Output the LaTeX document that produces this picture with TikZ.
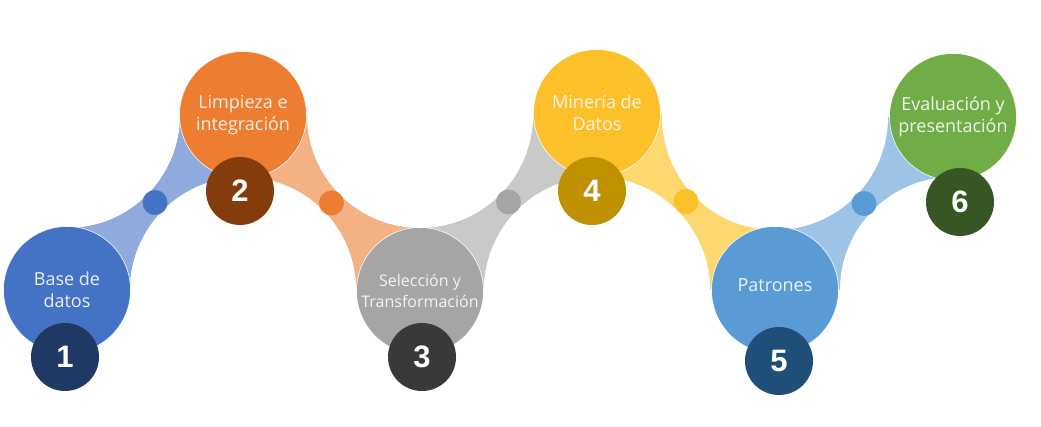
\documentclass[tikz,border=0pt]{standalone}
\usepackage{fontspec}
\setmainfont{Open Sans}
\newfontfamily\zahlfont{Liberation Sans}
\usepackage{tikz}
\usetikzlibrary{positioning,calc,backgrounds}

\definecolor{blau}{HTML}{4472C4}
\definecolor{blauhell}{HTML}{8FAADC}
\definecolor{blaudunkel}{HTML}{203864}
\definecolor{orangeton}{HTML}{ED7D31}
\definecolor{orangehell}{HTML}{F4B183}
\definecolor{orangedunkel}{HTML}{843C0C}
\definecolor{grau}{HTML}{A5A5A5}
\definecolor{grauhell}{HTML}{C9C9C9}
\definecolor{graudunkel}{HTML}{3A3838}
\definecolor{gelb}{HTML}{FCC02A}
\definecolor{gelbhell}{HTML}{FDD86E}
\definecolor{gelbdunkel}{HTML}{BF9000}
\definecolor{himmel}{HTML}{5B9BD5}
\definecolor{himmelhell}{HTML}{9DC3E6}
\definecolor{himmeldunkel}{HTML}{1F4E79}
\definecolor{gruen}{HTML}{70AD47}
\definecolor{gruendunkel}{HTML}{375623}

\tikzset{
  kreis/.style={circle, minimum size=127pt, inner sep=0pt, fill=#1, draw=white,
    line width=0.6pt, text=white!88!#1, align=center,
    font=\fontsize{18}{22}\selectfont},
  nummer/.style={circle, minimum size=68pt, inner sep=0pt, fill=#1, text=white,
    font=\zahlfont\bfseries\fontsize{31}{31}\selectfont},
  punkt/.style={circle, minimum size=25pt, inner sep=0pt, fill=#1},
}

\begin{document}
\begin{tikzpicture}[x=1pt,y=-1pt]
  \useasboundingbox (0,0) rectangle (1041,427);

  % Mittelpunkte
  \coordinate (m1) at (67,290);
  \coordinate (m2) at (243,115);
  \coordinate (m3) at (420,291);
  \coordinate (m4) at (597,113);
  \coordinate (m5) at (775,290);
  \coordinate (m6) at (953,117);

  % Verbindungen (hell), weisse Kreise schneiden sie aus
  \begin{scope}[on background layer]
    \foreach \a/\b/\farbe in {m1/m2/blauhell, m2/m3/orangehell, m3/m4/grauhell,
                              m4/m5/gelbhell, m5/m6/himmelhell}{
      \fill[\farbe] (\a) -- (\a |- \b) -- (\b) -- (\b |- \a) -- cycle;
    }
    \foreach \a/\b in {m1/m2, m2/m3, m3/m4, m4/m5, m5/m6}{
      \fill[white] (\a |- \b) circle (113pt);
      \fill[white] (\b |- \a) circle (113pt);
    }
  \end{scope}

  % Schritte
  \node[kreis=blau] (basedatos) at (m1) {Base de\\datos};
  \node[kreis=orangeton] (limpieza) at (m2) {Limpieza e\\integración};
  \node[kreis=grau, font=\fontsize{16}{21}\selectfont] (seleccion) at (m3)
    {Selección y\\Transformación};
  \node[kreis=gelb] (mineria) at (m4) {Minería de\\Datos};
  \node[kreis=himmel, text depth=9pt] (patrones) at (m5) {Patrones};
  \node[kreis=gruen] (evaluacion) at (m6) {Evaluación y\\presentación};

  % Punkte auf den Verbindungen
  \foreach \a/\b/\farbe [count=\i] in {basedatos/limpieza/blau, limpieza/seleccion/orangeton,
                             seleccion/mineria/grau, mineria/patrones/gelb,
                             patrones/evaluacion/himmel}{
    \node[punkt=\farbe] (p\i) at ($(\a)!0.5!(\b)$) {};
  }

  % Nummern
  \node[nummer=blaudunkel] (n1) at (65,357) {1};
  \node[nummer=orangedunkel] (n2) at (240,191) {2};
  \node[nummer=graudunkel] (n3) at (422,357) {3};
  \node[nummer=gelbdunkel] (n4) at (592,191) {4};
  \node[nummer=himmeldunkel] (n5) at (779,361) {5};
  \node[nummer=gruendunkel] (n6) at (960,202) {6};

\end{tikzpicture}
\end{document}
